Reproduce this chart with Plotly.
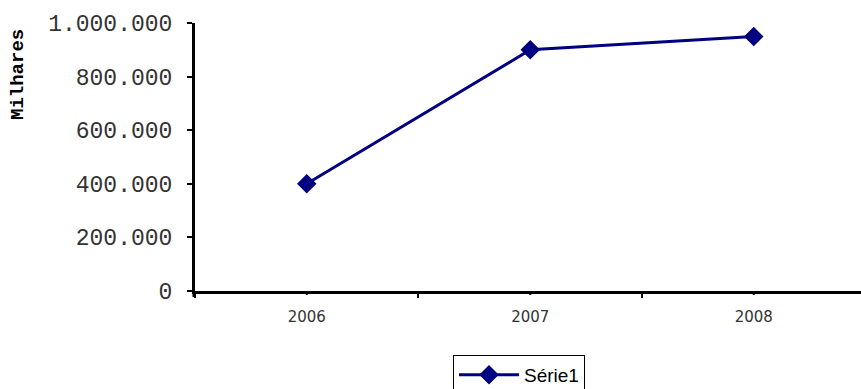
import plotly.graph_objects as go

categories = ["2006", "2007", "2008"]
values = [400000, 900000, 950000]
series_name = "Série1"

fig = go.Figure()
fig.add_trace(go.Scatter(
    x=categories, y=values, name=series_name, mode="lines+markers",
    line=dict(color="#000080", width=3),
    marker=dict(symbol="diamond", size=15, color="#000080"),
    showlegend=True,
))

W, H = 861, 389
L, T, B, R = 195, 23, 98, 0
ph = H - T - B
pw = W - L - R

fig.update_layout(
    width=W, height=H,
    margin=dict(l=L, r=R, t=T, b=B, autoexpand=False),
    paper_bgcolor="white", plot_bgcolor="white",
    separators=",.",
    showlegend=True,
    legend=dict(
        x=(453 - L) / pw, y=(291 - 355) / ph,
        xanchor="left", yanchor="top",
        bordercolor="black", borderwidth=1,
        font=dict(family="Liberation Sans, Arial", size=19, color="black"),
        itemwidth=60, tracegroupgap=0,
    ),
    xaxis=dict(
        type="category", range=[-0.5, 2.48],
        showline=True, linecolor="black", linewidth=3,
        showgrid=False, zeroline=False,
        ticks="outside", ticklen=4, tickwidth=2, tickcolor="black",
        ticklabelstandoff=10,
        tickfont=dict(family="DejaVu Sans", size=15, color="#333"),
        tickson="boundaries",
    ),
    yaxis=dict(
        range=[0, 1000000], dtick=200000, tickformat=",d",
        showline=True, linecolor="black", linewidth=3,
        showgrid=False, zeroline=False,
        ticks="outside", ticklen=5, tickwidth=2, tickcolor="black",
        ticklabelstandoff=10,
        tickfont=dict(family="Liberation Mono, Courier New", size=23, color="#333"),
    ),
)

# category tick marks at the category centers (in addition to boundary ticks)
for i, c in enumerate(categories):
    fig.add_shape(type="line", xref="x", yref="paper",
                  x0=i, x1=i, y0=0, y1=-4 / ph,
                  line=dict(color="black", width=2))

# y-axis line extending a little below the x axis
fig.add_shape(type="line", xref="paper", yref="paper",
              x0=-1 / pw, x1=-1 / pw, y0=0, y1=-6 / ph,
              line=dict(color="black", width=3))

fig.add_annotation(
    text="<b>Milhares</b>", textangle=-90,
    xref="paper", yref="paper",
    x=-(L - 18) / pw, y=(291 - 75) / ph,
    xanchor="center", yanchor="middle", showarrow=False,
    font=dict(family="Liberation Mono, Courier New", size=19, color="black"),
)

fig.write_html("out.html")
